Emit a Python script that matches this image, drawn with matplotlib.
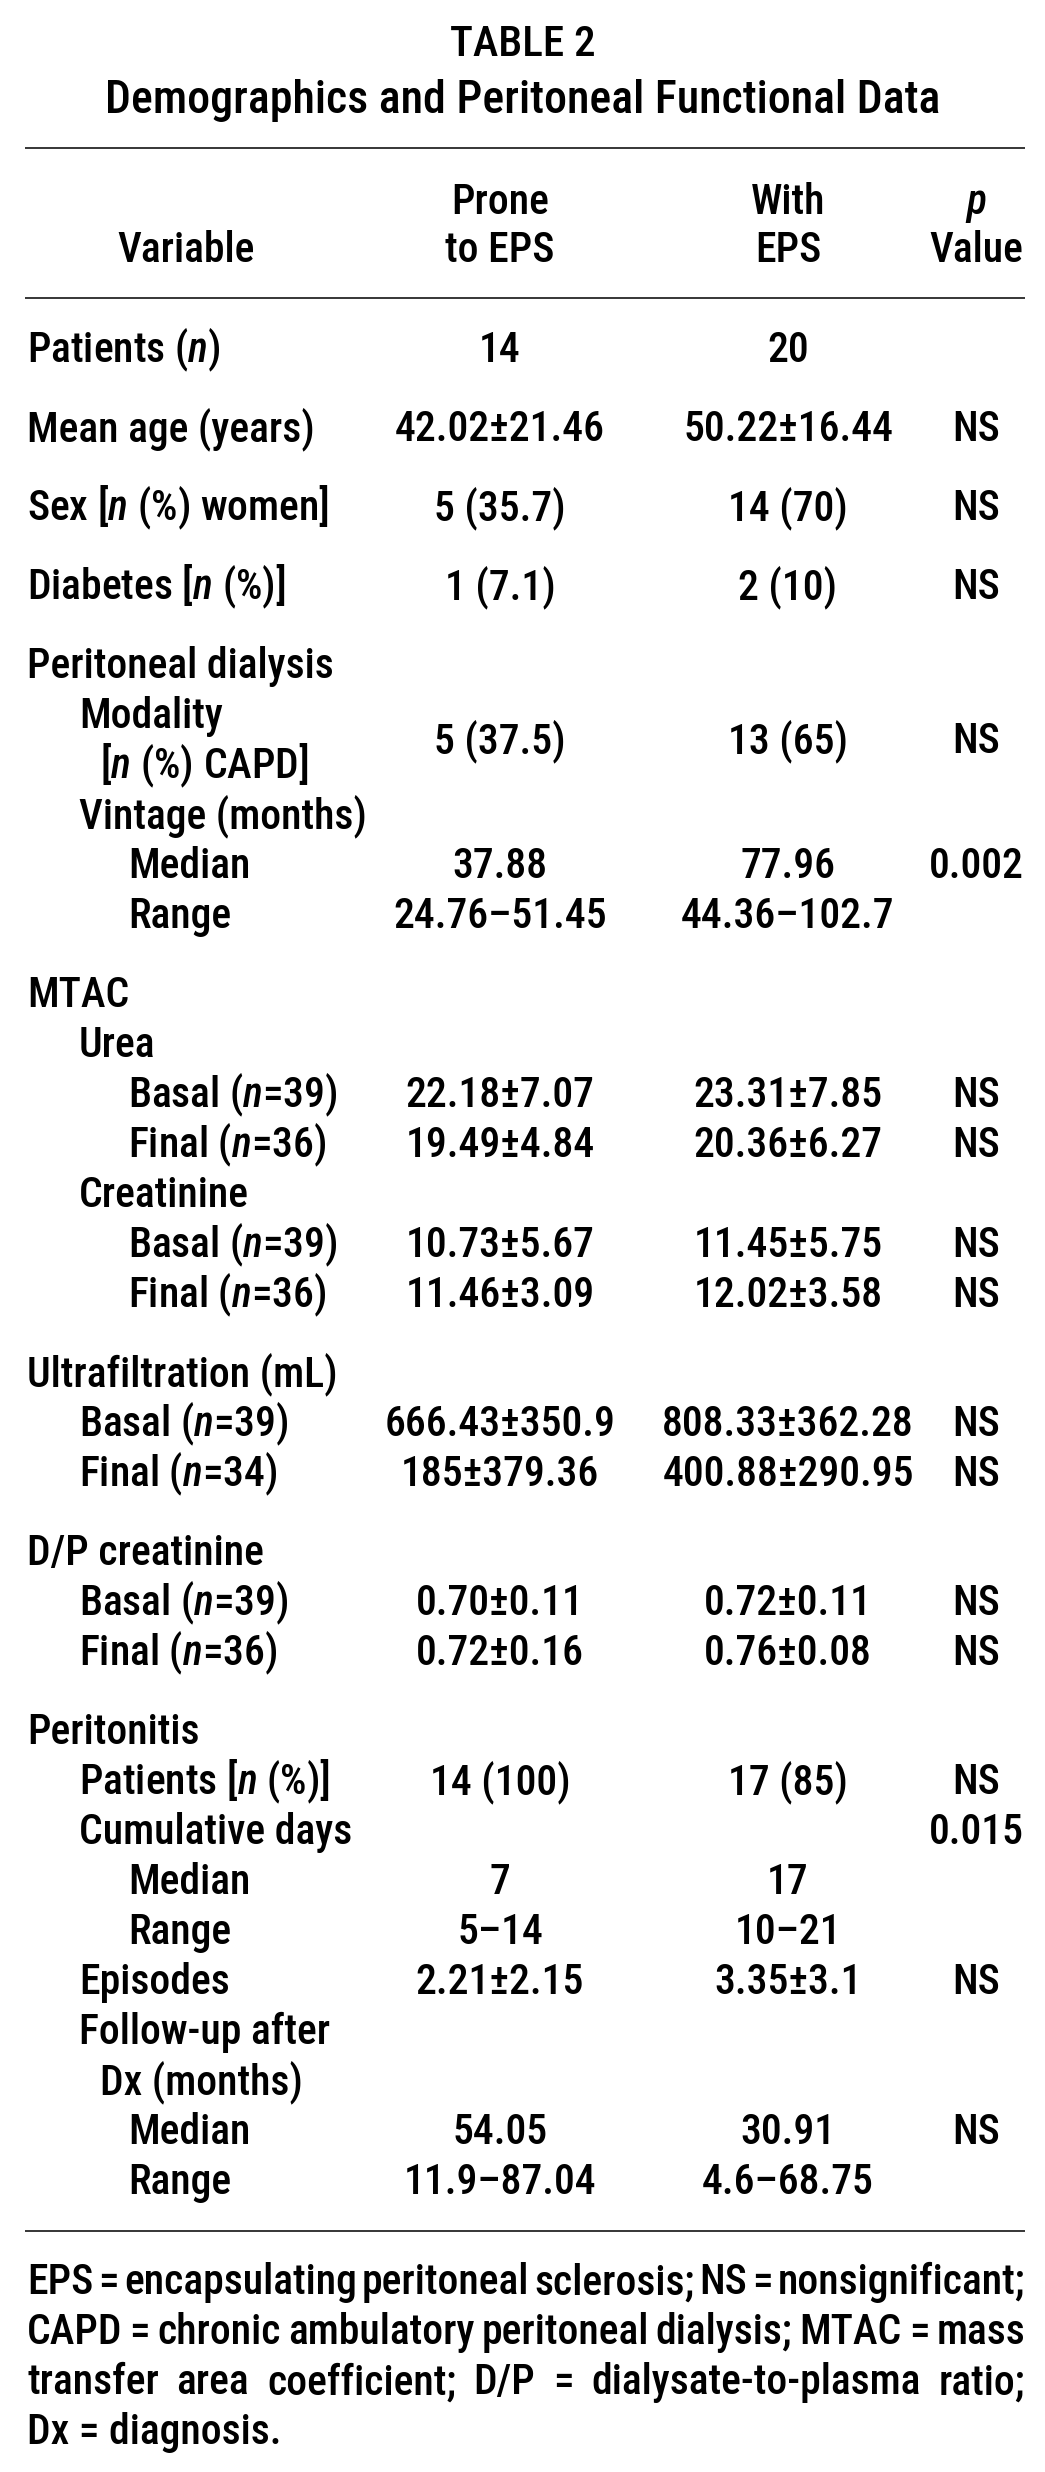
import matplotlib
matplotlib.use("Agg")
import matplotlib.pyplot as plt
from matplotlib import font_manager as fm


def pick_font(names):
    for n in names:
        try:
            fm.findfont(fm.FontProperties(family=n), fallback_to_default=False)
            return n
        except Exception:
            pass
    return "DejaVu Sans"


FAM = pick_font(["Roboto Condensed", "Liberation Sans Narrow", "DejaVu Sans"])
plt.rcParams["font.family"] = [FAM, "DejaVu Sans"]
plt.rcParams["font.weight"] = "medium"
plt.rcParams["mathtext.fontset"] = "custom"
plt.rcParams["mathtext.rm"] = FAM + ":medium"
plt.rcParams["mathtext.it"] = FAM + ":italic:medium"

# ---- table content ----
title = "TABLE 2"
subtitle = "Demographics and Peritoneal Functional Data"
col_heads_1 = ["", "Prone", "With", "$p$"]
col_heads_2 = ["Variable", "to EPS", "EPS", "Value"]

row_labels = [
    "Patients ($n$)", "Mean age (years)", "Sex [$n$ (%) women]", "Diabetes [$n$ (%)]",
    "Peritoneal dialysis", "Modality\n[$n$ (%) CAPD]", "Vintage (months)", "Median", "Range",
    "MTAC", "Urea", "Basal ($n$=39)", "Final ($n$=36)", "Creatinine", "Basal ($n$=39)", "Final ($n$=36)",
    "Ultrafiltration (mL)", "Basal ($n$=39)", "Final ($n$=34)",
    "D/P creatinine", "Basal ($n$=39)", "Final ($n$=36)",
    "Peritonitis", "Patients [$n$ (%)]", "Cumulative days", "Median", "Range", "Episodes",
    "Follow-up after\nDx (months)", "Median", "Range",
]
row_levels = [0, 0, 0, 0,
              0, 1, 1, 2, 2,
              0, 1, 2, 2, 1, 2, 2,
              0, 1, 1,
              0, 1, 1,
              0, 1, 1, 2, 2, 1, 1, 2, 2]
new_group = [1, 1, 1, 1,
             1, 0, 0, 0, 0,
             1, 0, 0, 0, 0, 0, 0,
             1, 0, 0,
             1, 0, 0,
             1, 0, 0, 0, 0, 0, 0, 0, 0]
prone_eps = ["14", "42.02±21.46", "5 (35.7)", "1 (7.1)",
             "", "5 (37.5)", "", "37.88", "24.76–51.45",
             "", "", "22.18±7.07", "19.49±4.84", "", "10.73±5.67", "11.46±3.09",
             "", "666.43±350.9", "185±379.36",
             "", "0.70±0.11", "0.72±0.16",
             "", "14 (100)", "", "7", "5–14", "2.21±2.15", "", "54.05", "11.9–87.04"]
with_eps = ["20", "50.22±16.44", "14 (70)", "2 (10)",
            "", "13 (65)", "", "77.96", "44.36–102.7",
            "", "", "23.31±7.85", "20.36±6.27", "", "11.45±5.75", "12.02±3.58",
            "", "808.33±362.28", "400.88±290.95",
            "", "0.72±0.11", "0.76±0.08",
            "", "17 (85)", "", "17", "10–21", "3.35±3.1", "", "30.91", "4.6–68.75"]
p_value = ["", "NS", "NS", "NS",
           "", "NS", "", "0.002", "",
           "", "", "NS", "NS", "", "NS", "NS",
           "", "NS", "NS",
           "", "NS", "NS",
           "", "NS", "0.015", "", "", "NS", "", "NS", ""]

footnote = [
    "EPS = encapsulating peritoneal sclerosis; NS = nonsignificant;",
    "CAPD = chronic ambulatory peritoneal dialysis; MTAC = mass",
    "transfer area coefficient; D/P = dialysate-to-plasma ratio;",
    "Dx = diagnosis.",
]

# ---- layout (pixels) ----
W, H = 1045, 2472
FS = 30
LEFT, RIGHT = 27, 1025
indent = [27, 79, 128]
cont_indent = 21
col_x = [500, 788, 976]
pitch = 50
group_step = 79
cap_half = 14

fig = plt.figure(figsize=(W / 100, H / 100), dpi=100)
ax = fig.add_axes([0, 0, 1, 1])
ax.set_xlim(0, W)
ax.set_ylim(H, 0)
ax.axis("off")


def put(x, y, s, ha="left", size=FS):
    return ax.text(x, y + size * 0.47, s, ha=ha, va="baseline", fontsize=size,
                   color="black", fontweight="medium")


put(W / 2, 41, title, ha="center", size=31)
put(W / 2, 97, subtitle, ha="center", size=33)

for y in (148, 298):
    ax.plot([25, 1025], [y, y], color="black", lw=1.1, solid_capstyle="butt")

put(117, 248, col_heads_2[0])
for i in range(3):
    put(col_x[i], 200, col_heads_1[i + 1], ha="center")
    put(col_x[i], 248, col_heads_2[i + 1], ha="center")

y = 348
for k, lab in enumerate(row_labels):
    if k > 0:
        y += group_step if new_group[k] else pitch
    lines = lab.split("\n")
    for j, ln in enumerate(lines):
        put(indent[row_levels[k]] + (cont_indent if j else 0), y + j * pitch, ln)
    yv = y + (len(lines) - 1) * pitch / 2
    for i, col in enumerate((prone_eps, with_eps, p_value)):
        if col[k]:
            put(col_x[i], yv, col[k], ha="center")
    y += (len(lines) - 1) * pitch

rule_y = y + 51
ax.plot([25, 1025], [rule_y, rule_y], color="black", lw=1.1, solid_capstyle="butt")

# justified footnote
fig.canvas.draw()
rend = fig.canvas.get_renderer()
fy = rule_y + 49
for li, line in enumerate(footnote):
    words = line.split(" ")
    if li == len(footnote) - 1:
        put(LEFT, fy, line)
    else:
        txts = [put(0, fy, w_) for w_ in words]
        widths = [t.get_window_extent(rend).width for t in txts]
        gap = (RIGHT - LEFT - sum(widths)) / (len(words) - 1)
        x = LEFT
        for t, w_ in zip(txts, widths):
            t.set_x(x)
            x += w_ + gap
    fy += 50

fig.savefig("out.png", dpi=100, facecolor="white")
